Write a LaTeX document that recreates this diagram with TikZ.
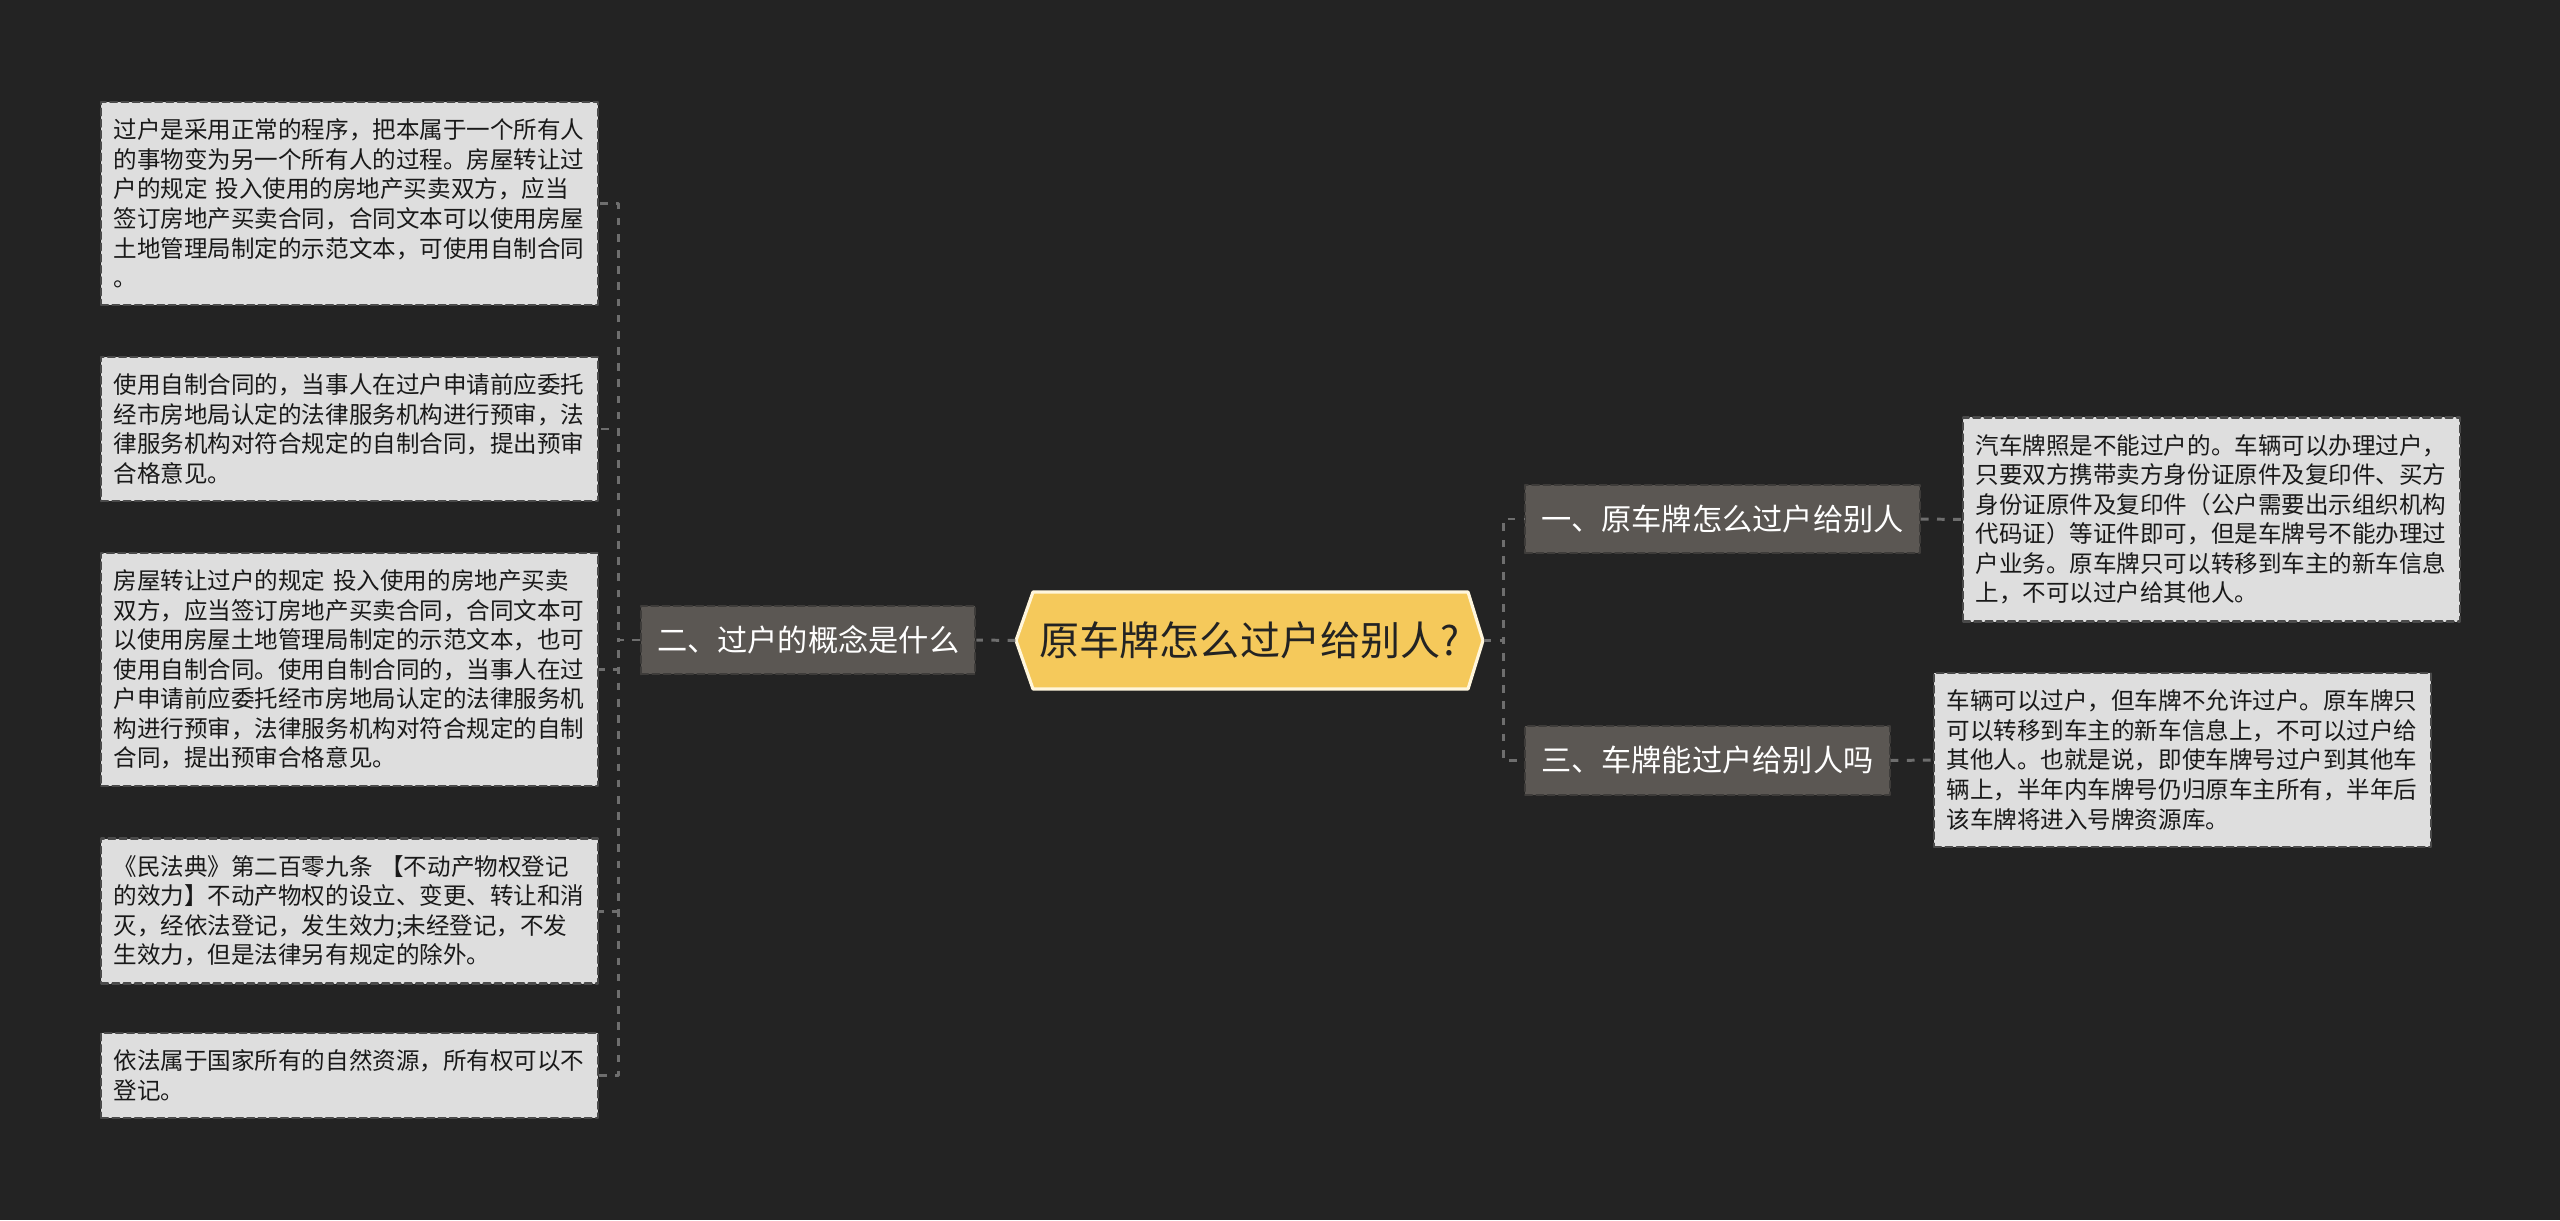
\documentclass[tikz,border=0pt]{standalone}
\usepackage{fontspec}
\setmainfont{Noto Sans CJK SC}
\definecolor{bgdark}{HTML}{232323}
\definecolor{leaffill}{HTML}{DEDEDE}
\definecolor{leafedge}{HTML}{4A4A4A}
\definecolor{topicfill}{HTML}{5B5753}
\definecolor{topicedge}{HTML}{3E3C3A}
\definecolor{rootfill}{HTML}{F5C95B}
\definecolor{rootedge}{HTML}{FFF6DC}
\definecolor{linkgray}{HTML}{6E6E6E}
\begin{document}
\begin{tikzpicture}[line cap=round,line join=round]
  \tikzset{
    leafbox/.style={draw=leafedge,dash pattern=on 2pt off 1.2pt,line width=0.6pt,fill=leaffill,
      text=black!90,align=left,text width=4.72cm,inner xsep=0.125cm,inner ysep=0.17cm,anchor=west,
      font=\fontsize{6.7pt}{8.4pt}\selectfont},
    topicbox/.style={draw=topicedge,dash pattern=on 2pt off 1.2pt,line width=0.6pt,fill=topicfill,
      text=white,inner xsep=0.16cm,inner ysep=0.2cm,anchor=west,
      font=\fontsize{8.6pt}{10pt}\selectfont},
    link/.style={draw=linkgray,line width=0.85pt,dash pattern=on 2.2pt off 2.4pt,line cap=butt},
  }

  % ==================== 背景 ====================
  \fill[bgdark] (0,0) rectangle (25.6,12.2);
  \useasboundingbox (0,0) rectangle (25.6,12.2);

  % ==================== 中心主题 ====================
  \coordinate (R_W) at (10.16,5.795);
  \coordinate (R_E) at (14.83,5.795);
  \draw[fill=rootfill,draw=rootedge,line width=0.9pt]
    (R_W) -- (10.33,6.28) -- (14.68,6.28) -- (R_E) -- (14.68,5.31) -- (10.33,5.31) -- cycle;
  \node[inner sep=0pt,minimum width=4.67cm,minimum height=0.97cm,text=bgdark,
    font=\fontsize{11.4pt}{13pt}\selectfont] (root) at (12.495,5.795) {原车牌怎么过户给别人?};

  % ==================== 左侧分支 ====================
  \node[topicbox] (concept) at (6.40,5.80) {二、过户的概念是什么};

  \def\lx{1.00}
  \node[leafbox] (leafA) at (\lx,10.165) {过户是采用正常的程序，把本属于一个所有人\\的事物变为另一个所有人的过程。房屋转让过\\户的规定 投入使用的房地产买卖双方，应当\\签订房地产买卖合同，合同文本可以使用房屋\\土地管理局制定的示范文本，可使用自制合同\\。};
  \node[leafbox] (leafB) at (\lx,7.91) {使用自制合同的，当事人在过户申请前应委托\\经市房地局认定的法律服务机构进行预审，法\\律服务机构对符合规定的自制合同，提出预审\\合格意见。};
  \node[leafbox] (leafC) at (\lx,5.505) {房屋转让过户的规定 投入使用的房地产买卖\\双方，应当签订房地产买卖合同，合同文本可\\以使用房屋土地管理局制定的示范文本，也可\\使用自制合同。使用自制合同的，当事人在过\\户申请前应委托经市房地局认定的法律服务机\\构进行预审，法律服务机构对符合规定的自制\\合同，提出预审合格意见。};
  \node[leafbox] (leafD) at (\lx,3.09) {《民法典》第二百零九条 【不动产物权登记\\的效力】不动产物权的设立、变更、转让和消\\灭，经依法登记，发生效力;未经登记，不发\\生效力，但是法律另有规定的除外。};
  \node[leafbox] (leafE) at (\lx,1.445) {依法属于国家所有的自然资源，所有权可以不\\登记。};

  \draw[link] (root.west) -- (concept.east);
  \foreach \leaf in {leafA,leafB,leafC,leafD,leafE}
    \draw[link] (concept.west) -- ++(-0.22,0) |- (\leaf.east);

  % ==================== 右侧分支 ====================
  \node[topicbox] (branchA) at (15.24,7.01) {一、原车牌怎么过户给别人};
  \node[topicbox] (branchC) at (15.24,4.595) {三、车牌能过户给别人吗};

  \node[leafbox] (detailA) at (19.62,7.005) {汽车牌照是不能过户的。车辆可以办理过户，\\只要双方携带卖方身份证原件及复印件、买方\\身份证原件及复印件（公户需要出示组织机构\\代码证）等证件即可，但是车牌号不能办理过\\户业务。原车牌只可以转移到车主的新车信息\\上，不可以过户给其他人。};
  \node[leafbox] (detailC) at (19.33,4.60) {车辆可以过户，但车牌不允许过户。原车牌只\\可以转移到车主的新车信息上，不可以过户给\\其他人。也就是说，即使车牌号过户到其他车\\辆上，半年内车牌号仍归原车主所有，半年后\\该车牌将进入号牌资源库。};

  \foreach \branch in {branchA,branchC}
    \draw[link] (root.east) -- ++(0.20,0) |- (\branch.west);
  \draw[link] (branchA.east) -- (detailA.west);
  \draw[link] (branchC.east) -- (detailC.west);
\end{tikzpicture}
\end{document}
